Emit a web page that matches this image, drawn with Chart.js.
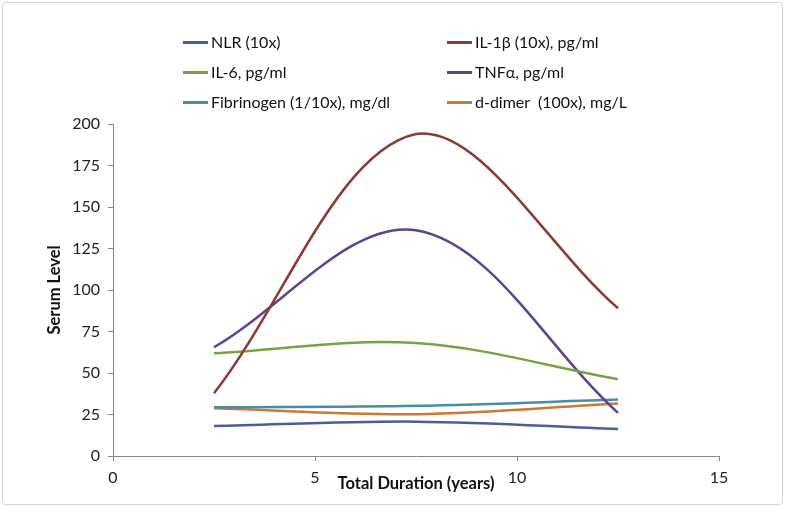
<!DOCTYPE html>
<html>
<head>
<meta charset="utf-8">
<script src="https://cdn.jsdelivr.net/npm/chart.js@4/dist/chart.umd.min.js"></script>
<style>
    body { margin: 0; background: #fff; }
    #wrap { position: relative; width: 787px; height: 510px; }
    #frame {
        position: absolute; left: 2px; top: 2px; width: 779px; height: 501px;
        border: 1.5px solid #d4d4d4; border-radius: 4px; pointer-events: none;
    }
    .leg { position: absolute; font: 16px Lato, sans-serif; color: #111; white-space: pre; }
    .leg span.sw { display: inline-block; width: 25px; height: 3px; vertical-align: middle; margin-right: 3px; position: relative; top: -1px; }
</style>
</head>
<body>
<div id="wrap">
    <canvas id="chart" width="787" height="510"></canvas>
    <div id="legend"></div>
    <div id="frame"></div>
</div>
<script>
// Data
const durations = [2.5, 7.5, 12.5];
const nlr = [18, 20.7, 16.3];
const il1b = [37.8, 194, 89];
const il6 = [61.9, 68, 46.2];
const tnfa = [65.5, 136, 26];
const fibrinogen = [29.3, 30.2, 34];
const dDimer = [28.7, 25.2, 31.7];

const seriesNames = ['NLR (10x)', 'IL-1β (10x), pg/ml', 'IL-6, pg/ml', 'TNFα, pg/ml', 'Fibrinogen (1/10x), mg/dl', 'd-dimer  (100x), mg/L'];
const seriesValues = [nlr, il1b, il6, tnfa, fibrinogen, dDimer];
const seriesColors = ['#4A5BA0', '#8B3A36', '#7AA13F', '#5C4390', '#4A8CA8', '#C97A35'];

const yTicks = [0, 25, 50, 75, 100, 125, 150, 175, 200];
const xTicks = [0, 5, 10, 15];

document.addEventListener('DOMContentLoaded', function() {
    buildLegend();
    initChart();
});

function buildLegend() {
    const legend = document.getElementById('legend');
    seriesNames.forEach(function(name, i) {
        const item = document.createElement('div');
        item.className = 'leg';
        item.style.left = (i % 2 === 0 ? 183 : 447) + 'px';
        item.style.top = (32 + Math.floor(i / 2) * 30) + 'px';
        item.innerHTML = '<span class="sw" style="background:' + seriesColors[i] + '"></span>' + name;
        legend.appendChild(item);
    });
}

function initChart() {
    const ctx = document.getElementById('chart').getContext('2d');
    const axisColor = '#868686';
    const tickFont = { family: 'Lato, sans-serif', size: 16 };
    const titleFont = { family: 'Lato, sans-serif', size: 16.5, weight: 'bold' };

    new Chart(ctx, {
        type: 'line',
        data: {
            datasets: seriesNames.map(function(name, i) {
                return {
                    label: name,
                    data: durations.map(function(d, j) { return { x: d, y: seriesValues[i][j] }; }),
                    borderColor: seriesColors[i],
                    backgroundColor: seriesColors[i],
                    borderWidth: 2.5,
                    pointRadius: 0,
                    tension: 0.35,
                    fill: false
                };
            })
        },
        options: {
            responsive: false,
            animation: false,
            layout: { padding: { top: 124, right: 68, left: 0, bottom: 0 } },
            plugins: {
                legend: { display: false },
                tooltip: { enabled: false }
            },
            scales: {
                x: {
                    type: 'linear',
                    min: 0,
                    max: 15,
                    afterBuildTicks: function(scale) {
                        scale.ticks = xTicks.map(function(v) { return { value: v }; });
                    },
                    afterFit: function(scale) { scale.height = 54; },
                    grid: { drawOnChartArea: false, drawTicks: true, tickLength: 5, color: axisColor },
                    border: { color: axisColor, width: 1 },
                    ticks: { color: '#222', font: tickFont, padding: 7, maxRotation: 0 },
                    title: {
                        display: true,
                        text: 'Total Duration (years)',
                        color: '#111',
                        font: titleFont,
                        padding: { top: 0, bottom: 16 }
                    }
                },
                y: {
                    min: 0,
                    max: 200,
                    afterBuildTicks: function(scale) {
                        scale.ticks = yTicks.map(function(v) { return { value: v }; });
                    },
                    afterFit: function(scale) { scale.width = 113; },
                    grid: { drawOnChartArea: false, drawTicks: true, tickLength: 5, color: axisColor },
                    border: { color: axisColor, width: 1 },
                    ticks: { color: '#222', font: tickFont, padding: 8 },
                    title: {
                        display: true,
                        text: 'Serum Level',
                        color: '#111',
                        font: titleFont,
                        padding: { top: 45, bottom: 0 }
                    }
                }
            }
        }
    });
}
</script>
</body>
</html>
